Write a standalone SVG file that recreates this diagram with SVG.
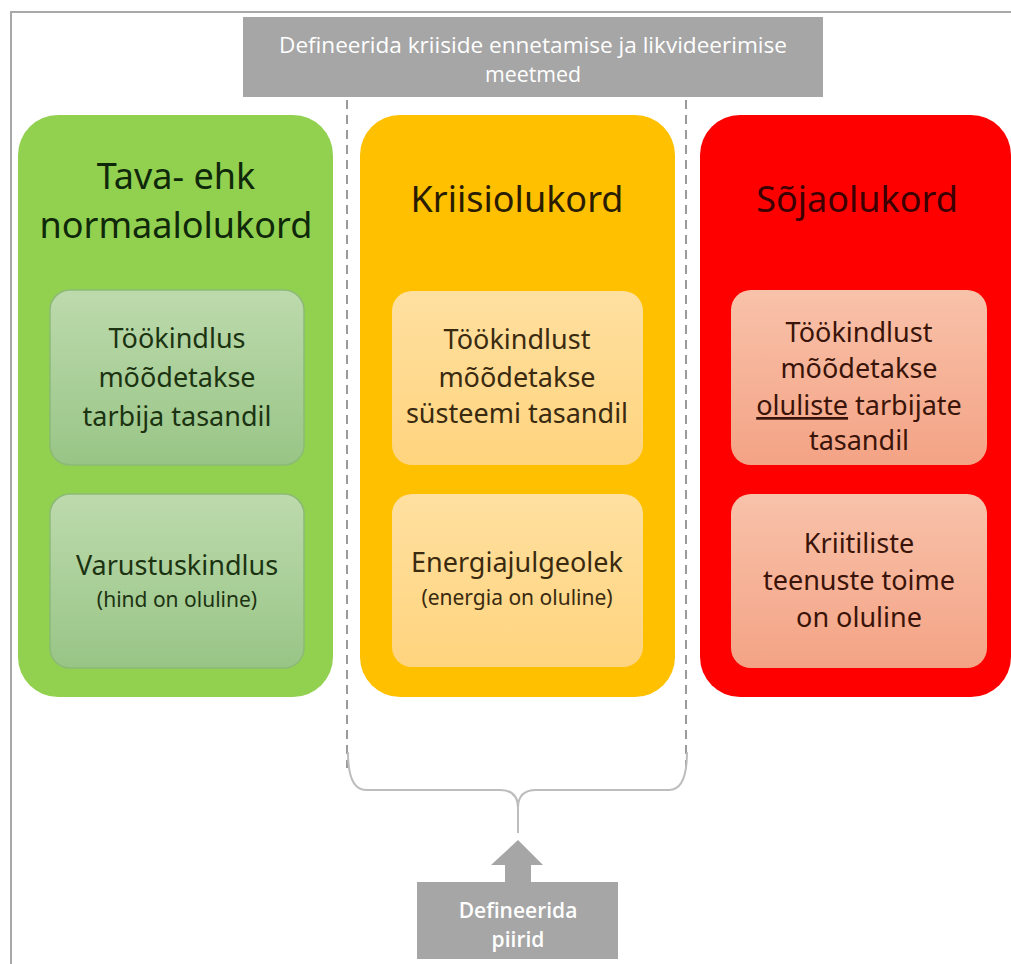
<svg xmlns="http://www.w3.org/2000/svg" width="1011" height="964" viewBox="0 0 1011 964">
<defs>
<linearGradient id="gG" x1="0" y1="0" x2="0" y2="1"><stop offset="0" stop-color="#bddaad"/><stop offset="1" stop-color="#98c586"/></linearGradient>
<linearGradient id="gO" x1="0" y1="0" x2="0" y2="1"><stop offset="0" stop-color="#ffe0a0"/><stop offset="1" stop-color="#ffd47e"/></linearGradient>
<linearGradient id="gR" x1="0" y1="0" x2="0" y2="1"><stop offset="0" stop-color="#f8c2aa"/><stop offset="1" stop-color="#f4a385"/></linearGradient>
<style>
.ttl{font-family:"Noto Sans","DejaVu Sans",sans-serif;font-size:36px;text-anchor:middle}
.in{font-family:"Noto Sans","DejaVu Sans",sans-serif;font-size:27px;text-anchor:middle}
.sm{font-family:"Noto Sans","DejaVu Sans",sans-serif;font-size:21px;text-anchor:middle}
.wt{font-family:"Open Sans","Noto Sans",sans-serif;fill:#ffffff;text-anchor:middle}
.dash{stroke:#9a9a9a;stroke-width:2;stroke-dasharray:9 6;fill:none}
.gray{fill:#a6a6a6}
</style>
</defs>
<rect x="0" y="0" width="1011" height="964" fill="#ffffff"/>
<path d="M11,964 V12 H1011" fill="none" stroke="#a8a8a8" stroke-width="2"/>

<g id="top-box">
<rect class="gray" x="243" y="17" width="580" height="80"/>
<text class="wt" font-size="22" x="533" y="53" textLength="508" lengthAdjust="spacingAndGlyphs">Defineerida kriiside ennetamise ja likvideerimise</text>
<text class="wt" font-size="22" x="533" y="82" textLength="96" lengthAdjust="spacingAndGlyphs">meetmed</text>
</g>

<g id="connectors">
<line class="dash" x1="347" y1="100" x2="347" y2="768"/>
<line class="dash" x1="686" y1="100" x2="686" y2="768"/>
<path d="M348,752 Q348,790 366,790 L500,790 Q518,790 518,808 L518,833 M518,833 L518,808 Q518,790 536,790 L669,790 Q687,790 687,752" fill="none" stroke="#bdbdbd" stroke-width="2"/>
</g>

<g id="normal">
<rect x="18" y="115" width="315" height="582" rx="40" fill="#92d050"/>
<text class="ttl" fill="#10280a"><tspan x="176" y="189">Tava- ehk</tspan><tspan x="176" y="238">normaalolukord</tspan></text>
</g>
<g id="normal-1">
<rect x="50" y="290" width="254" height="175" rx="20" fill="url(#gG)" stroke="#8cba76" stroke-width="1.5"/>
<text class="in" fill="#1c3312"><tspan x="177" y="348">Töökindlus</tspan><tspan x="177" y="387">mõõdetakse</tspan><tspan x="177" y="426">tarbija tasandil</tspan></text>
</g>
<g id="normal-2">
<rect x="50" y="494" width="254" height="174" rx="20" fill="url(#gG)" stroke="#8cba76" stroke-width="1.5"/>
<text class="in" x="177" y="575" fill="#1c3312">Varustuskindlus</text>
<text class="sm" x="177" y="607" fill="#1c3312">(hind on oluline)</text>
</g>

<g id="crisis">
<rect x="360" y="115" width="315" height="582" rx="40" fill="#ffc000"/>
<text class="ttl" x="517" y="212" fill="#2a1c00">Kriisiolukord</text>
</g>
<g id="crisis-1">
<rect x="392" y="291" width="251" height="174" rx="20" fill="url(#gO)"/>
<text class="in" fill="#3a2a10"><tspan x="517" y="349">Töökindlust</tspan><tspan x="517" y="387">mõõdetakse</tspan><tspan x="517" y="423">süsteemi tasandil</tspan></text>
</g>
<g id="crisis-2">
<rect x="392" y="494" width="251" height="173" rx="20" fill="url(#gO)"/>
<text class="in" x="517" y="572" fill="#3a2a10">Energiajulgeolek</text>
<text class="sm" x="517" y="605" fill="#3a2a10">(energia on oluline)</text>
</g>

<g id="war">
<rect x="700" y="115" width="311" height="582" rx="40" fill="#ff0000"/>
<text class="ttl" x="857" y="212" fill="#3d0000">Sõjaolukord</text>
</g>
<g id="war-1">
<rect x="731" y="290" width="256" height="175" rx="20" fill="url(#gR)"/>
<text class="in" fill="#3a1408"><tspan x="859" y="342">Töökindlust</tspan><tspan x="859" y="378">mõõdetakse</tspan><tspan x="859" y="415"><tspan text-decoration="underline">oluliste</tspan> tarbijate</tspan><tspan x="859" y="450">tasandil</tspan></text>
</g>
<g id="war-2">
<rect x="731" y="494" width="256" height="174" rx="20" fill="url(#gR)"/>
<text class="in" fill="#3a1408"><tspan x="859" y="553">Kriitiliste</tspan><tspan x="859" y="590">teenuste toime</tspan><tspan x="859" y="627">on oluline</tspan></text>
</g>

<g id="bottom-box">
<polygon class="gray" points="518,840 543,865 531,865 531,883 505,883 505,865 491,865"/>
<rect class="gray" x="417" y="882" width="201" height="77"/>
<text class="wt" font-size="21" font-weight="600" x="518" y="918">Defineerida</text>
<text class="wt" font-size="21" font-weight="600" x="518" y="947">piirid</text>
</g>
</svg>
